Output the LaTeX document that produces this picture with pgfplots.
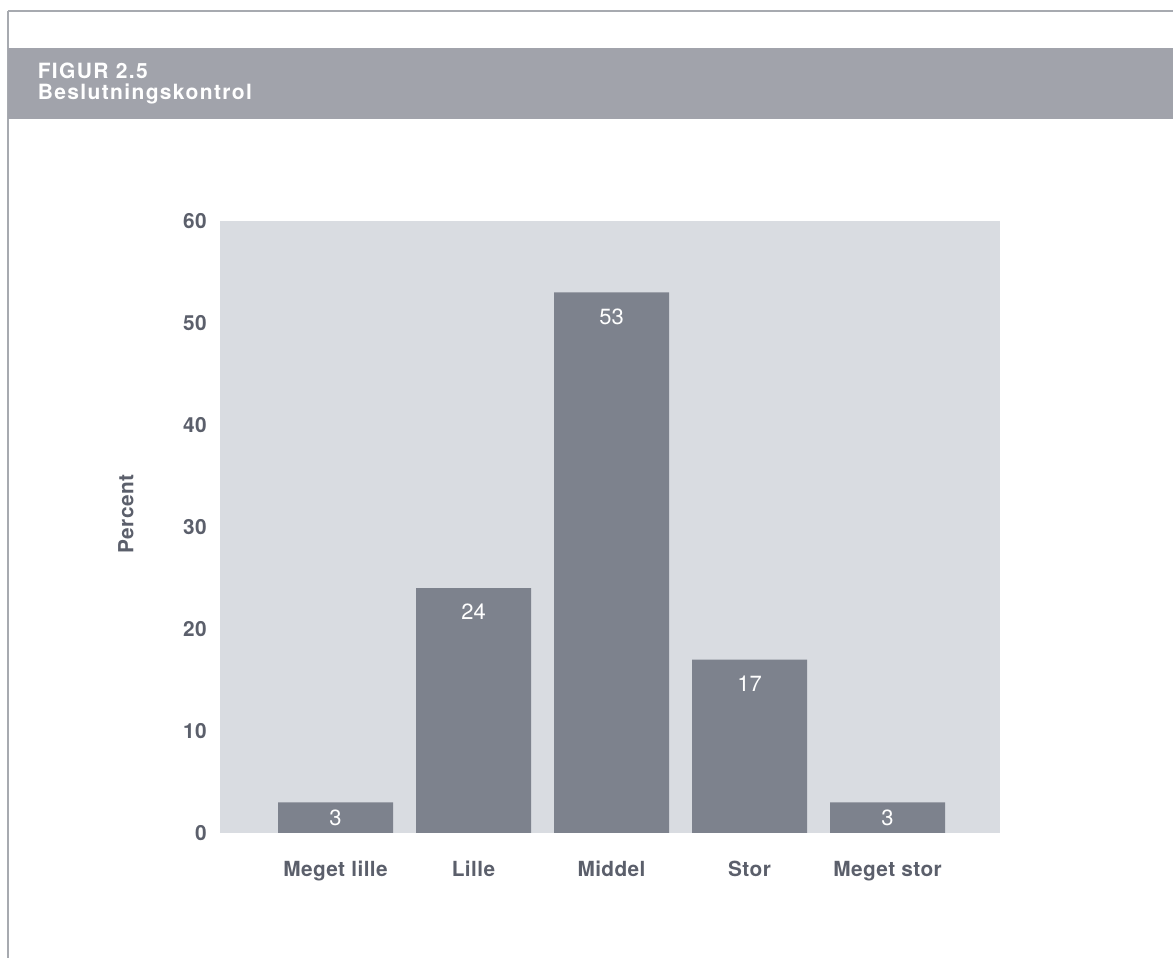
\documentclass[border=0pt]{standalone}
\usepackage{pgfplots}
\pgfplotsset{compat=1.18}
\usepackage{pgfplotstable}
\usepackage{fontspec}
\setmainfont{TeX Gyre Heros}
\newfontfamily\headfont[LetterSpace=6.5]{TeX Gyre Heros}
\newfontfamily\tickfont[LetterSpace=2]{TeX Gyre Heros}

\definecolor{band}{HTML}{A1A3AB}
\definecolor{plotbg}{HTML}{D9DCE1}
\definecolor{barfill}{HTML}{7D828D}
\definecolor{ink}{HTML}{5B5F6B}
\definecolor{frame}{HTML}{A7AAB0}

% share of answers per category; dy = how far the value label sits below the bar top (pt)
\pgfplotstableread{
x  y   dy
0  3   7.5
1  24  12
2  53  12
3  17  12
4  3   7.5
}\kontrol

\begin{document}
\begin{tikzpicture}
\useasboundingbox (0pt,0pt) rectangle (586.5pt,479pt);
% frame lines
\draw[frame, line width=0.8pt] (4pt,473.5pt) -- (586.5pt,473.5pt);
\draw[frame, line width=1pt] (4pt,473.5pt) -- (4pt,0pt);
% title band
\fill[band] (4pt,419.5pt) rectangle (586.5pt,455pt);
\node[anchor=base west, inner sep=0pt, text=white, font=\headfont\fontsize{10.5}{12}\selectfont\bfseries] at (18.7pt,439.8pt) {FIGUR 2.5};
\node[anchor=base west, inner sep=0pt, text=white, font=\headfont\fontsize{10.5}{12}\selectfont\bfseries] at (18.7pt,429.3pt) {Beslutningskontrol};

\begin{axis}[
  at={(110pt,62.5pt)}, anchor=south west,
  scale only axis, width=390pt, height=306pt,
  xmin=-0.837, xmax=4.815, ymin=0, ymax=60,
  axis background/.style={fill=plotbg},
  axis line style={draw=none},
  major tick length=0pt,
  ytick={0,10,20,30,40,50,60},
  xtick={0,1,2,3,4},
  xticklabels={Meget lille, Lille, Middel, Stor, Meget stor},
  /pgf/number format/assume math mode=true,
  ticklabel style={text=ink, font=\tickfont\fontsize{10.4}{12}\selectfont\bfseries},
  yticklabel style={anchor=east, inner sep=0pt, xshift=-6.5pt},
  xticklabel style={anchor=base, inner sep=0pt, yshift=-22pt},
  ylabel={Percent},
  every axis y label/.style={at={(axis description cs:-0.1205,0.521)}, rotate=90, anchor=center, text=ink, font=\tickfont\fontsize{10.4}{12}\selectfont\bfseries},
  ybar, bar width=57.5pt,
  nodes near coords,
  visualization depends on={\thisrow{dy} \as \labdy},
  every node near coord/.append style={anchor=center, yshift=-\labdy pt, text=white, font=\fontsize{11}{12}\selectfont},
]
\addplot[fill=barfill, draw=none] table[x=x, y=y] {\kontrol};
\end{axis}
\end{tikzpicture}
\end{document}
